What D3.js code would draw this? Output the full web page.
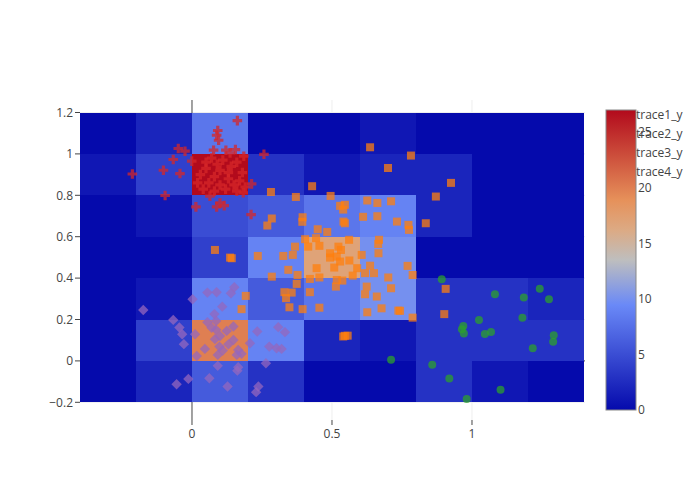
<!DOCTYPE html>
<html>
<head>
<meta charset="utf-8">
<script src="https://cdn.jsdelivr.net/npm/d3@7/dist/d3.min.js"></script>
<style>
  html, body { margin: 0; padding: 0; background: #fff; }
  svg { display: block; font-family: "Open Sans", verdana, arial, sans-serif; }
</style>
</head>
<body>
<svg id="chart" width="700" height="500"></svg>
<script>
// ---------------- DATA ----------------
// 2D histogram bin edges (0.2 wide)
const xBinEdges = [-0.4, -0.2, 0, 0.2, 0.4, 0.6, 0.8, 1.0, 1.2, 1.4];
const yBinEdges = [1.2, 1.0, 0.8, 0.6, 0.4, 0.2, 0, -0.2];
// counts per bin, rows from top (y 1.0–1.2) to bottom (y -0.2–0)
const countsRow1 = [0, 2, 8, 0, 0, 1, 0, 0, 0];
const countsRow2 = [1, 4, 27, 3, 1, 2, 2, 0, 0];
const countsRow3 = [0, 1, 5, 6, 8, 9, 2, 0, 0];
const countsRow4 = [0, 0, 4, 9, 17, 10, 0, 0, 0];
const countsRow5 = [0, 1, 9, 6, 8, 10, 3, 3, 2];
const countsRow6 = [0, 4, 20, 9, 2, 1, 3, 3, 3];
const countsRow7 = [0, 2, 6, 3, 0, 0, 3, 1, 0];

const traceNames = ["trace1_y", "trace2_y", "trace3_y", "trace4_y"];

// trace1_y : red crosses
const trace1 = [[0.162,1.161],[0.092,1.113],[0.088,1.090],[0.095,1.066],[-0.049,1.026],[-0.025,1.013],[0.077,1.018],[0.121,1.018],[0.155,1.021],[0.136,1.005],[0.185,0.989],[0.257,0.998],[-0.067,0.973],[-0.001,0.965],[-0.102,0.921],[-0.043,0.905],[-0.213,0.903],[-0.096,0.799],[0.014,0.744],[0.088,0.744],[0.115,0.750],[0.100,0.763],[0.211,0.707],[0.213,0.855],[0.064,0.796],[0.183,0.812],
  [0.07,0.98],[0.11,0.97],[0.16,0.96],[0.05,0.93],[0.10,0.92],[0.14,0.94],[0.18,0.91],[0.03,0.90],[0.08,0.89],[0.13,0.88],[0.17,0.87],[0.02,0.86],[0.06,0.86],[0.10,0.85],[0.15,0.85],[0.19,0.84],[0.04,0.83],[0.08,0.82],[0.12,0.83],[0.16,0.82],[0.09,0.95],[0.13,0.91],[0.05,0.96]];

// trace2_y : green circles
const trace2 = [[0.892,0.395],[1.082,0.322],[1.185,0.306],[1.242,0.348],[1.275,0.298],[1.025,0.198],[1.180,0.209],[0.969,0.169],[0.964,0.153],[0.971,0.132],[1.046,0.130],[1.068,0.140],[1.292,0.124],[1.290,0.092],[1.217,0.061],[0.858,-0.019],[0.919,-0.085],[1.102,-0.139],[0.981,-0.184],[0.711,0.005]];

// trace3_y : orange squares
const trace3 = [[0.636,1.032],[0.782,0.992],[0.700,0.932],[0.429,0.844],[0.282,0.816],[0.371,0.792],[0.495,0.797],[0.529,0.749],[0.546,0.754],[0.540,0.731],[0.626,0.775],[0.662,0.763],[0.711,0.771],[0.835,0.665],[0.285,0.688],[0.269,0.654],[0.395,0.694],[0.394,0.672],[0.541,0.673],[0.546,0.665],[0.611,0.696],[0.662,0.699],[0.732,0.673],[0.773,0.657],[0.775,0.633],[0.449,0.636],[0.483,0.623],[0.404,0.588],[0.443,0.593],[0.368,0.552],[0.415,0.552],[0.455,0.556],[0.561,0.585],[0.523,0.552],[0.532,0.536],[0.668,0.585],[0.665,0.565],[0.235,0.507],[0.326,0.507],[0.360,0.512],[0.493,0.520],[0.517,0.504],[0.606,0.512],[0.666,0.520],[0.493,0.499],[0.529,0.480],[0.562,0.485],[0.590,0.448],[0.445,0.448],[0.508,0.451],[0.421,0.396],[0.455,0.403],[0.517,0.391],[0.537,0.388],[0.574,0.412],[0.618,0.424],[0.650,0.424],[0.636,0.460],[0.701,0.403],[0.770,0.459],[0.788,0.415],[0.344,0.440],[0.377,0.415],[0.285,0.407],[0.374,0.372],[0.421,0.332],[0.514,0.359],[0.455,0.257],[0.330,0.332],[0.356,0.330],[0.336,0.303],[0.348,0.259],[0.395,0.250],[0.192,0.314],[0.177,0.250],[0.624,0.359],[0.618,0.322],[0.660,0.311],[0.711,0.351],[0.626,0.235],[0.677,0.254],[0.737,0.243],[0.788,0.209],[0.546,0.121],[0.540,0.118],[0.556,0.122],[0.136,0.499],[0.142,0.496],[0.082,0.536],[0.871,0.794],[0.925,0.860],[0.906,0.348],[0.901,0.226],[0.743,0.242]];

// trace4_y : purple diamonds
const trace4 = [[-0.174,0.246],[-0.067,0.198],[-0.045,0.161],[-0.035,0.129],[-0.029,0.081],[0.002,0.298],[0.055,0.330],[0.088,0.332],[0.139,0.327],[0.151,0.356],[0.108,0.262],[0.080,0.226],[0.055,0.187],[0.086,0.193],[0.011,0.129],[0.086,0.150],[0.124,0.145],[0.148,0.166],[0.082,0.105],[0.148,0.101],[0.098,0.069],[0.046,0.058],[0.017,0.024],[0.092,0.029],[0.165,0.053],[0.177,0.034],[0.160,0.029],[0.207,0.085],[0.233,0.142],[0.308,0.163],[0.332,0.139],[0.276,0.069],[0.302,0.061],[0.320,0.058],[0.264,-0.011],[0.092,-0.024],[0.165,-0.031],[0.162,-0.047],[0.062,-0.084],[-0.013,-0.087],[-0.055,-0.113],[0.127,-0.124],[0.237,-0.124],[0.229,-0.151],[0.10,0.12],[0.13,0.08],[0.07,0.16],[0.11,0.05]];

const xTicks = [0, 0.5, 1];
const yTicks = [-0.2, 0, 0.2, 0.4, 0.6, 0.8, 1, 1.2];
const colorbarTicks = [0, 5, 10, 15, 20, 25];

// ---------------- CHART ----------------
const counts = [countsRow1, countsRow2, countsRow3, countsRow4, countsRow5, countsRow6, countsRow7];
const svg = d3.select("#chart");
const L = 80, R = 585, T = 100, B = 420;
const x = d3.scaleLinear().domain([-0.4, 1.4036]).range([L, R]);
const y = d3.scaleLinear().domain([-0.2855, 1.2604]).range([B, T]);
const zmax = d3.max(counts.flat());

const rdbuStops = [0, 0.35, 0.5, 0.6, 0.7, 1];
const rdbuColors = ["rgb(5,10,172)", "rgb(106,137,247)", "rgb(190,190,190)", "rgb(220,170,132)", "rgb(230,145,90)", "rgb(178,10,28)"];
const color = d3.scaleLinear().domain(rdbuStops.map(t => t * zmax)).range(rdbuColors).interpolate(d3.interpolateRgb);

const fmt = v => (v < 0 ? "\u2212" : "") + d3.format("")(Math.abs(v));
const textColor = "#444";

// gridlines
svg.append("g").selectAll("line").data(xTicks.filter(v => v !== 0)).join("line")
  .attr("x1", d => x(d)).attr("x2", d => x(d)).attr("y1", T).attr("y2", B)
  .attr("stroke", "#eee").attr("stroke-width", 1);
svg.append("g").selectAll("line").data(yTicks.filter(v => v !== 0)).join("line")
  .attr("y1", d => y(d)).attr("y2", d => y(d)).attr("x1", L).attr("x2", R)
  .attr("stroke", "#eee").attr("stroke-width", 1);
// zero lines
svg.append("line").attr("x1", x(0)).attr("x2", x(0)).attr("y1", T).attr("y2", B).attr("stroke", "#444").attr("stroke-width", 1);
svg.append("line").attr("x1", L).attr("x2", R).attr("y1", y(0)).attr("y2", y(0)).attr("stroke", "#444").attr("stroke-width", 1);

// heatmap cells
const cells = [];
counts.forEach((row, ri) => row.forEach((v, ci) => cells.push({
  x0: xBinEdges[ci], x1: xBinEdges[ci + 1], y0: yBinEdges[ri + 1], y1: yBinEdges[ri], v
})));
svg.append("g").attr("shape-rendering", "crispEdges").selectAll("rect").data(cells).join("rect")
  .attr("x", d => Math.round(x(d.x0))).attr("y", d => Math.round(y(d.y1)))
  .attr("width", d => Math.round(x(d.x1)) - Math.round(x(d.x0)))
  .attr("height", d => Math.round(y(d.y0)) - Math.round(y(d.y1)))
  .attr("fill", d => color(d.v));

// marker paths (size 8, plotly-like)
const r = 4, rc = 1.6, rc2 = 4.8, rd = 5.2;
const crossPath = `M${rc2},${rc}H${rc}V${rc2}H-${rc}V${rc}H-${rc2}V-${rc}H-${rc}V-${rc2}H${rc}V-${rc}H${rc2}Z`;
const diamondPath = `M${rd},0L0,${rd}L-${rd},0L0,-${rd}Z`;
const squarePath = `M${r},${r}H-${r}V-${r}H${r}Z`;
const circlePath = d3.symbol(d3.symbolCircle, Math.PI * r * r)();

function drawTrace(data, path, fill) {
  svg.append("g").selectAll("path").data(data).join("path")
    .attr("d", path)
    .attr("transform", d => `translate(${x(d[0])},${y(d[1])})`)
    .attr("fill", fill).attr("fill-opacity", 0.75);
}
drawTrace(trace4, diamondPath, "rgb(148,103,189)");
drawTrace(trace2, circlePath, "rgb(44,160,44)");
drawTrace(trace3, squarePath, "rgb(255,127,14)");
drawTrace(trace1, crossPath, "rgb(214,39,40)");

// axes
const axisG = svg.append("g").attr("font-size", 12).attr("fill", textColor);
xTicks.forEach(v => {
  axisG.append("line").attr("x1", x(v)).attr("x2", x(v)).attr("y1", B).attr("y2", B + 5).attr("stroke", "#444");
  axisG.append("text").attr("x", x(v)).attr("y", B + 18).attr("text-anchor", "middle").text(fmt(v));
});
yTicks.forEach(v => {
  axisG.append("line").attr("x1", L - 5).attr("x2", L).attr("y1", y(v)).attr("y2", y(v)).attr("stroke", "#444");
  axisG.append("text").attr("x", L - 7).attr("y", y(v)).attr("dy", "0.35em").attr("text-anchor", "end").text(fmt(v));
});

// legend text (symbols hidden behind colorbar)
const legG = svg.append("g").attr("font-size", 12).attr("fill", textColor);
traceNames.forEach((n, i) => {
  legG.append("text").attr("x", 636).attr("y", 115 + i * 19).attr("dy", "0.35em").text(n);
});

// colorbar
const cbTop = 110, cbBot = 410, cbX = 606, cbW = 30;
const cb = d3.scaleLinear().domain([0, zmax]).range([cbBot, cbTop]);
const defs = svg.append("defs");
const grad = defs.append("linearGradient").attr("id", "cbgrad").attr("x1", 0).attr("y1", 1).attr("x2", 0).attr("y2", 0);
rdbuStops.forEach((t, i) => grad.append("stop").attr("offset", t).attr("stop-color", rdbuColors[i]));
svg.append("rect").attr("x", cbX).attr("y", cbTop).attr("width", cbW).attr("height", cbBot - cbTop)
  .attr("fill", "url(#cbgrad)").attr("stroke", "#888").attr("stroke-width", 1);
const cbG = svg.append("g").attr("font-size", 12).attr("fill", textColor);
colorbarTicks.forEach(v => {
  cbG.append("text").attr("x", cbX + cbW + 2).attr("y", cb(v)).attr("dy", "0.35em").text(fmt(v));
});
</script>
</body>
</html>
